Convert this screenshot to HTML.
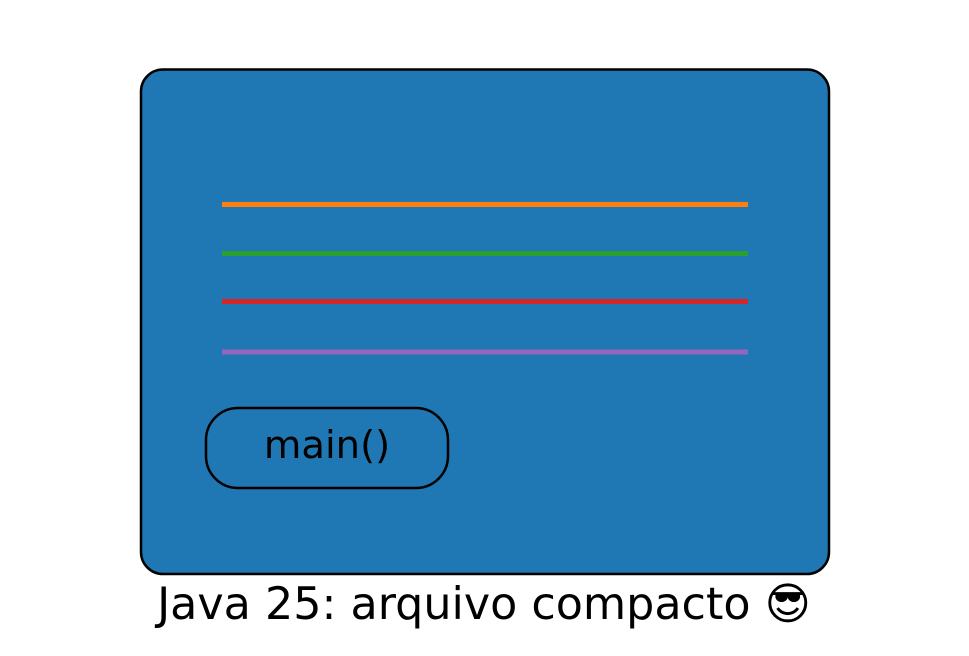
<!DOCTYPE html>
<html><head><meta charset="utf-8"><style>
html,body{margin:0;padding:0;background:#fff;}
svg{display:block;}
text{font-family:"DejaVu Sans","Liberation Sans",sans-serif;}
</style></head><body>
<svg width="969" height="656" viewBox="0 0 969 656" xmlns="http://www.w3.org/2000/svg">
<rect x="141" y="69.5" width="688" height="504.5" rx="22" ry="22" fill="#1f77b4" stroke="#000" stroke-width="2.5"/>
<line x1="222" y1="204.5" x2="748" y2="204.5" stroke="#ff7f0e" stroke-width="5"/>
<line x1="222" y1="253.5" x2="748" y2="253.5" stroke="#2ca02c" stroke-width="5"/>
<line x1="222" y1="301.5" x2="748" y2="301.5" stroke="#d62728" stroke-width="5"/>
<line x1="222" y1="352" x2="748" y2="352" stroke="#9467bd" stroke-width="5"/>
<rect x="206" y="408" width="242" height="80" rx="32" ry="32" fill="#1f77b4" stroke="#000" stroke-width="2.5"/>
<text x="327" y="458" font-size="38.5" text-anchor="middle" fill="#000">main()</text>
<text x="484" y="619" font-size="44.4" text-anchor="middle" fill="#000">Java 25: arquivo compacto 😎</text>
</svg>
</body></html>
